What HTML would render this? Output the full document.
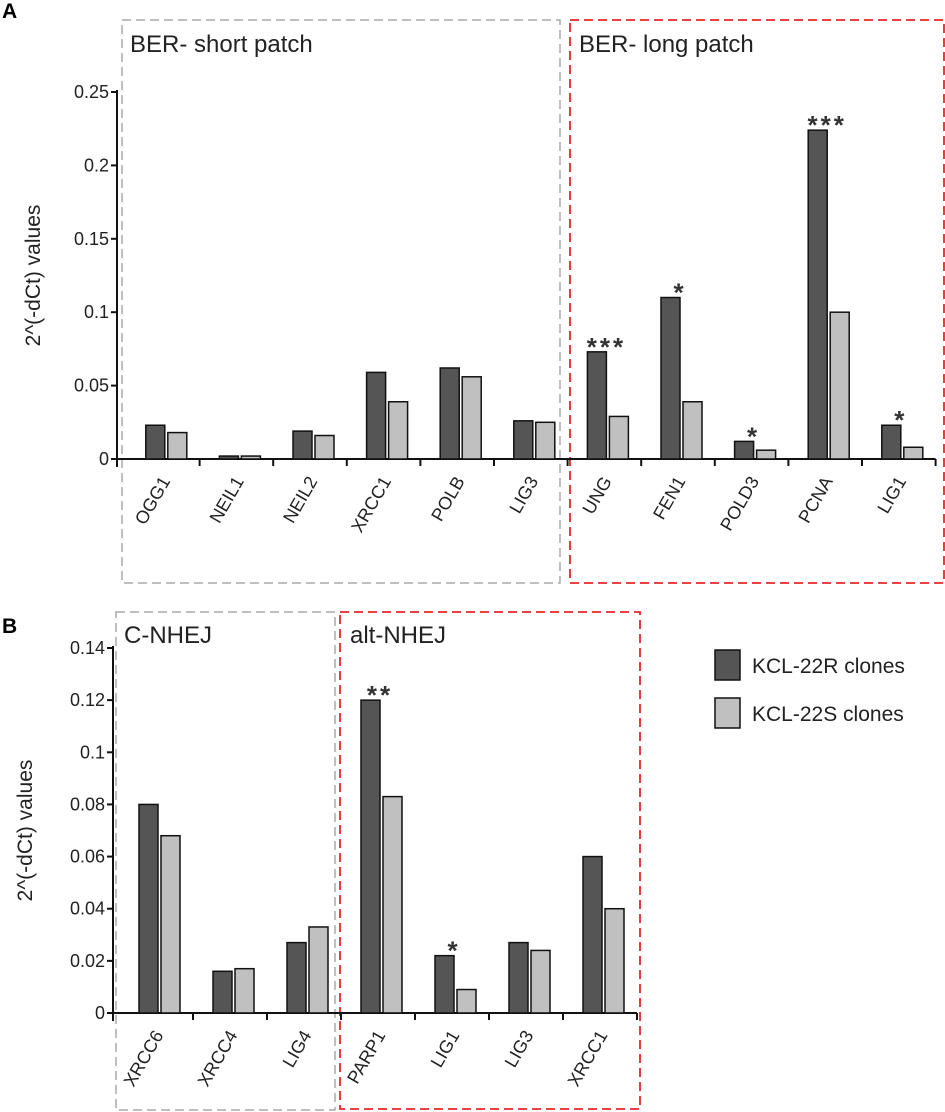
<!DOCTYPE html>
<html><head><meta charset="utf-8"><style>
body{margin:0;background:#fff}
svg{display:block;font-family:"Liberation Sans",sans-serif}
</style></head><body>
<svg id="c" width="945" height="1112" viewBox="0 0 945 1112" xmlns="http://www.w3.org/2000/svg">
<text x="2" y="18" font-size="21" font-weight="bold">A</text>
<text x="2" y="633" font-size="21" font-weight="bold">B</text>
<rect x="122" y="20" width="438" height="563" fill="none" stroke="#aaa" stroke-width="1.5" stroke-dasharray="9,5"/>
<rect x="570" y="20" width="374" height="563" fill="none" stroke="#e8272a" stroke-width="1.8" stroke-dasharray="9,5"/>
<text x="130" y="52" font-size="24" fill="#222">BER-  short patch</text>
<text x="579" y="52" font-size="24" fill="#222">BER-  long patch</text>
<rect x="116" y="612" width="219" height="498" fill="none" stroke="#aaa" stroke-width="1.5" stroke-dasharray="9,5"/>
<rect x="340" y="612" width="300" height="497" fill="none" stroke="#e8272a" stroke-width="1.8" stroke-dasharray="9,5"/>
<text x="124" y="643" font-size="24" fill="#222">C-NHEJ</text>
<text x="350" y="643" font-size="24" fill="#222">alt-NHEJ</text>
<rect x="715" y="650" width="25" height="30" fill="#555" stroke="#111" stroke-width="1.5"/>
<text x="752" y="673" font-size="21" fill="#222">KCL-22R clones</text>
<rect x="715" y="698" width="25" height="30" fill="#c0c0c0" stroke="#111" stroke-width="1.5"/>
<text x="752" y="721" font-size="21" fill="#222">KCL-22S clones</text>
</svg>
<script>
const catsA=["OGG1","NEIL1","NEIL2","XRCC1","POLB","LIG3","UNG","FEN1","POLD3","PCNA","LIG1"];
const rA=[0.023,0.002,0.019,0.059,0.062,0.026,0.073,0.110,0.012,0.224,0.023];
const sA=[0.018,0.002,0.016,0.039,0.056,0.025,0.029,0.039,0.006,0.100,0.008];
const starsA=["","","","","","","***","*","*","***","*"];
const ticksA=[0,0.05,0.1,0.15,0.2,0.25];
const tickLabA=["0","0.05","0.1","0.15","0.2","0.25"];
const catsB=["XRCC6","XRCC4","LIG4","PARP1","LIG1","LIG3","XRCC1"];
const rB=[0.080,0.016,0.027,0.120,0.022,0.027,0.060];
const sB=[0.068,0.017,0.033,0.083,0.009,0.024,0.040];
const starsB=["","","","**","*","",""];
const ticksB=[0,0.02,0.04,0.06,0.08,0.1,0.12,0.14];
const tickLabB=["0","0.02","0.04","0.06","0.08","0.1","0.12","0.14"];
const svg=document.getElementById('c');
const NS="http://www.w3.org/2000/svg";
function mk(t,a,p){const e=document.createElementNS(NS,t);for(const k in a)e.setAttribute(k,a[k]);(p||svg).appendChild(e);return e;}
function panel(id,cats,r,s,stars,ticks,labs,o){
  const y=v=>o.y0-(v/o.max)*(o.y0-o.yTop);
  const cx=i=>o.x0+(i+0.5)*o.cw;
  const ax=mk('line',{x1:o.ax,y1:o.yTop-2,x2:o.ax,y2:o.y0+8,stroke:'#111','stroke-width':2});
  
  
  const xl=mk('line',{x1:o.ax,y1:o.y0,x2:o.x0+cats.length*o.cw,y2:o.y0,stroke:'#111','stroke-width':2});
  
  
  ticks.forEach((t,i)=>{
    mk('line',{x1:o.ax-6,y1:y(t),x2:o.ax,y2:y(t),stroke:'#111','stroke-width':2});
    const tl=mk('text',{x:o.ax-8,y:y(t)+6,'font-size':18,'text-anchor':'end',fill:'#222'});
    tl.textContent=labs[i];
    
    
  });
  const yt=mk('text',{transform:`translate(${o.ytx},${(o.y0+o.yTop)/2}) rotate(-90)`,'font-size':21,'text-anchor':'middle',fill:'#222'});
  yt.textContent='2^(-dCt) values';
  
  
  cats.forEach((c,i)=>{
    const x=cx(i);
    mk('line',{x1:o.x0+(i+1)*o.cw,y1:o.y0,x2:o.x0+(i+1)*o.cw,y2:o.y0+7,stroke:'#111','stroke-width':2});
    const b1=mk('rect',{x:x-17,y:y(r[i]),width:19,height:o.y0-y(r[i]),fill:'#555',stroke:'#111','stroke-width':1.5});
    
    
    const b2=mk('rect',{x:x+5,y:y(s[i]),width:19,height:o.y0-y(s[i]),fill:'#c0c0c0',stroke:'#111','stroke-width':1.5});
    
    
    if(stars[i]){
      const st=mk('text',{x:x+2,y:y(Math.max(r[i],s[i]))+4,'font-size':26,'font-weight':'bold','text-anchor':'middle',fill:'#333','letter-spacing':3});
      st.textContent=stars[i];
      
      
    }
    const lb=mk('text',{transform:`translate(${x+8},${o.y0+22}) rotate(-60)`,'font-size':18,'text-anchor':'end',fill:'#222'});
    lb.textContent=c;
    
    
  });
}
panel('panel-a',catsA,rA,sA,starsA,ticksA,tickLabA,{x0:126,cw:73.6,ax:117,y0:459,yTop:92,max:0.25,ytx:40});
panel('panel-b',catsB,rB,sB,starsB,ticksB,tickLabB,{x0:119,cw:74,ax:113,y0:1013,yTop:648,max:0.14,ytx:32});
</script>
</body></html>
